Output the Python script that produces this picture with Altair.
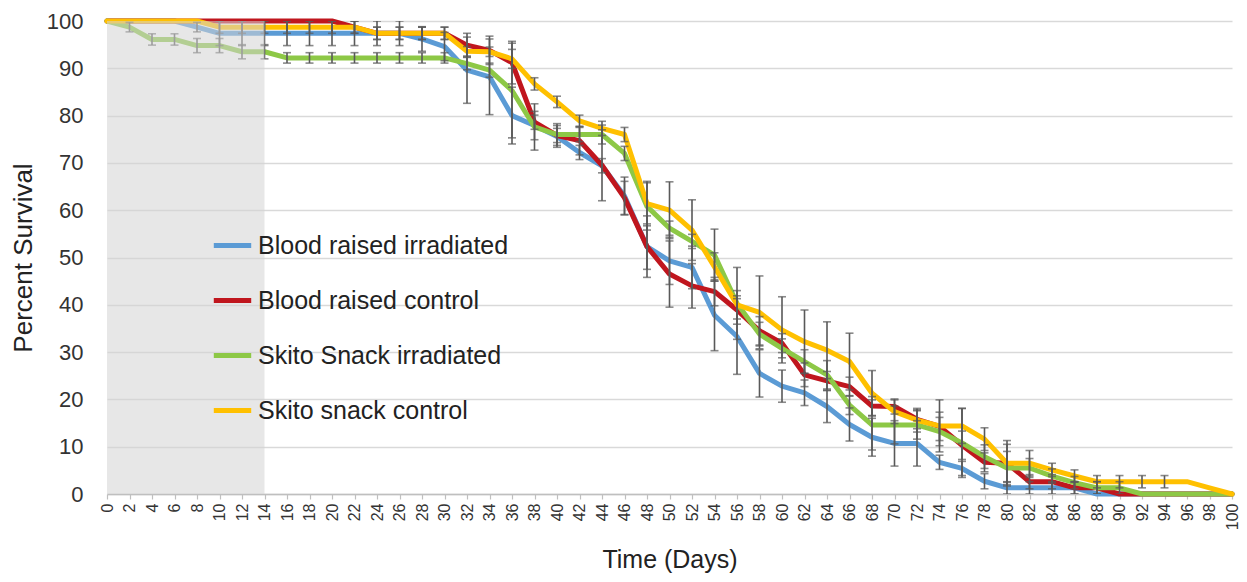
import altair as alt
import pandas as pd

days = [0, 2, 4, 6, 8, 10, 12, 14, 16, 18, 20, 22, 24, 26, 28, 30, 32, 34, 36, 38, 40,
        42, 44, 46, 48, 50, 52, 54, 56, 58, 60, 62, 64, 66, 68, 70, 72, 74, 76, 78, 80,
        82, 84, 86, 88, 90, 92, 94, 96, 98, 100]

series_names = ["Blood raised irradiated", "Blood raised control",
                "Skito Snack irradiated", "Skito snack control"]
series_colors = ["#5B9BD5", "#C0161E", "#8DC846", "#FFC000"]

blood_irr = [100, 100, 100, 100, 98.7, 97.4, 97.4, 97.4, 97.4, 97.4, 97.4, 97.4, 97.4, 97.4, 96.2, 94.6,
             89.6, 88.2, 80.0, 77.9, 75.6, 72.2, 69.4, 63.0, 52.3, 49.3, 47.9, 37.8, 33.3, 25.5, 22.8,
             21.4, 18.5, 14.7, 12.0, 10.7, 10.7, 6.7, 5.4, 2.7, 1.3, 1.3, 1.3, 1.3, 0, 0, 0, 0, 0, 0, 0]
blood_irr_err = [0, 0, 0, 0, 1.0, 2.6, 2.6, 2.6, 2.6, 2.6, 2.6, 2.6, 2.6, 2.6, 2.6, 3.0,
                 7.0, 8.0, 6.0, 3.0, 2.3, 1.5, 1.5, 4.0, 6.5, 5.0, 4.5, 7.5, 8.0, 5.0, 3.4,
                 2.7, 3.4, 3.5, 4.0, 4.8, 4.8, 1.5, 1.5, 1.6, 1.3, 1.3, 1.3, 1.3, 0, 0, 0, 0, 0, 0, 0]

blood_ctl = [100, 100, 100, 100, 100, 100, 100, 100, 100, 100, 100, 98.7, 97.4, 97.4, 97.4, 97.4,
             94.9, 93.8, 91.2, 78.6, 75.8, 74.7, 69.5, 62.6, 52.3, 46.5, 44.0, 42.8, 38.9, 34.5, 31.9,
             25.2, 23.9, 22.7, 18.6, 18.5, 15.8, 14.3, 10.3, 6.7, 6.5, 2.6, 2.6, 1.3, 1.3, 0, 0, 0, 0, 0, 0]
blood_ctl_err = [0, 0, 0, 0, 0, 0, 0, 0, 0, 0, 0, 1.3, 1.3, 1.3, 1.3, 1.3,
                 2.5, 3.0, 4.5, 1.5, 1.5, 3.0, 7.5, 3.5, 4.8, 7.0, 4.7, 3.0, 3.0, 3.0, 2.0,
                 2.5, 2.0, 2.0, 2.0, 1.6, 2.0, 3.0, 3.0, 2.0, 4.0, 1.5, 1.5, 1.3, 1.3, 0, 0, 0, 0, 0, 0]

skito_irr = [100, 98.7, 96.1, 96.1, 94.8, 94.8, 93.5, 93.5, 92.2, 92.2, 92.2, 92.2, 92.2, 92.2, 92.2, 92.2,
             91.0, 89.6, 85.3, 77.6, 76.0, 76.0, 76.0, 72.0, 60.8, 56.2, 53.4, 50.5, 40.3, 33.8, 30.8,
             28.0, 25.2, 18.8, 14.6, 14.6, 14.6, 13.2, 10.8, 7.9, 5.5, 5.5, 3.8, 2.4, 1.3, 1.3, 0, 0, 0, 0, 0]
skito_irr_err = [0, 1.0, 1.2, 1.2, 1.5, 1.5, 1.5, 1.5, 1.1, 1.1, 1.1, 1.1, 1.1, 1.1, 1.1, 1.1,
                 1.3, 1.5, 10.0, 4.9, 2.3, 1.5, 2.0, 1.5, 5.0, 1.5, 1.5, 5.5, 7.6, 2.5, 2.0,
                 2.5, 3.0, 2.0, 5.3, 4.0, 3.0, 3.0, 7.3, 2.5, 3.5, 2.0, 1.5, 1.3, 1.3, 1.3, 0, 0, 0, 0, 0]

skito_ctl = [100, 100, 100, 100, 100, 98.7, 98.7, 98.7, 98.7, 98.7, 98.7, 98.7, 97.4, 97.4, 97.4, 97.4,
             93.6, 93.5, 92.0, 86.7, 82.9, 78.9, 77.3, 76.0, 61.4, 60.0, 55.8, 48.0, 40.0, 38.4, 34.7,
             32.2, 30.4, 28.0, 21.3, 17.4, 15.6, 14.4, 14.4, 11.6, 6.5, 6.5, 5.1, 3.8, 2.6, 2.6, 2.6, 2.6, 2.6, 1.3, 0]
skito_ctl_err = [0, 0, 0, 0, 0, 1.3, 1.3, 1.3, 1.3, 1.3, 1.3, 1.3, 1.3, 1.3, 1.3, 1.3,
                 1.0, 1.0, 2.0, 1.3, 1.2, 1.2, 1.5, 1.5, 4.7, 6.0, 6.4, 3.0, 3.0, 7.7, 7.0,
                 6.7, 6.0, 6.0, 4.8, 2.5, 2.5, 5.5, 3.7, 2.4, 4.8, 2.7, 1.4, 1.3, 1.3, 1.3, 1.3, 1.3, 0, 0, 0]

shade_start = [0]
shade_end = [14]

y_ticks = [0, 10, 20, 30, 40, 50, 60, 70, 80, 90, 100]

values = [blood_irr, blood_ctl, skito_irr, skito_ctl]
errors = [blood_irr_err, blood_ctl_err, skito_irr_err, skito_ctl_err]

rows = []
for name, vals, errs in zip(series_names, values, errors):
    for d, v, e in zip(days, vals, errs):
        rows.append({"day": d, "pct": v, "err": e, "lo": v - e, "hi": v + e, "series": name})
df = pd.DataFrame(rows)
df_err = df[df["err"] > 0]

shade = pd.DataFrame({"x0": shade_start, "x1": shade_end, "y0": [0], "y1": [100]})

FONT = "Liberation Sans"
xscale = alt.Scale(domain=[0, 100], nice=False)
yscale = alt.Scale(domain=[0, 100], nice=False)

xaxis = alt.Axis(values=days, labelAngle=-90, labelFontSize=16, labelColor="#333333",
                 tickSize=5, tickColor="#BFBFBF", tickWidth=1.2, domainColor="#BFBFBF",
                 domainWidth=1.5, labelPadding=4, grid=False, title="Time (Days)",
                 titleFontSize=25, titleFontWeight="normal", titleColor="#222222",
                 titlePadding=18, labelFont=FONT, titleFont=FONT, labelFlush=False,
                 labelOverlap=False)
yaxis = alt.Axis(values=y_ticks, labelFontSize=22, labelColor="#333333", ticks=False,
                 domain=False, grid=True, gridColor="#D9D9D9", gridWidth=1.5,
                 labelPadding=24, title="Percent Survival", titleFontSize=26,
                 titleFontWeight="normal", titleColor="#222222", titlePadding=10,
                 labelFont=FONT, titleFont=FONT)

legend = alt.Legend(orient="none", legendX=104, legendY=203, title=None,
                    symbolType="stroke", symbolSize=1400, symbolStrokeWidth=5,
                    labelFontSize=25, labelFont=FONT, labelColor="#222222", labelLimit=0,
                    rowPadding=20, labelOffset=4, padding=0)
color = alt.Color("series:N", scale=alt.Scale(domain=series_names, range=series_colors),
                  legend=legend)

layers = []
for name in series_names:
    layers.append(
        alt.Chart(df[df["series"] == name]).mark_line(strokeWidth=5, strokeJoin="round",
                                                      strokeCap="round").encode(
            x=alt.X("day:Q", scale=xscale, axis=xaxis),
            y=alt.Y("pct:Q", scale=yscale, axis=yaxis),
            color=color,
        )
    )

bars = alt.Chart(df_err).mark_rule(color="#595959", strokeWidth=1.6, clip=True).encode(
    x=alt.X("day:Q", scale=xscale, axis=xaxis),
    y=alt.Y("lo:Q", scale=yscale, axis=yaxis),
    y2="hi:Q",
)
cap_lo = alt.Chart(df_err).mark_tick(orient="horizontal", size=8, thickness=1.6,
                                     color="#595959", clip=True).encode(
    x=alt.X("day:Q", scale=xscale, axis=xaxis),
    y=alt.Y("lo:Q", scale=yscale, axis=yaxis),
)
cap_hi = alt.Chart(df_err).mark_tick(orient="horizontal", size=8, thickness=1.6,
                                     color="#595959", clip=True).encode(
    x=alt.X("day:Q", scale=xscale, axis=xaxis),
    y=alt.Y("hi:Q", scale=yscale, axis=yaxis),
)

rect = alt.Chart(shade).mark_rect(color="#D4D4D4", opacity=0.55).encode(
    x=alt.X("x0:Q", scale=xscale, axis=xaxis),
    x2="x1:Q",
    y=alt.Y("y0:Q", scale=yscale, axis=yaxis),
    y2="y1:Q",
)

chart = alt.layer(*layers, bars, cap_lo, cap_hi, rect).properties(
    width=1125, height=473,
    padding={"left": 99, "top": 13, "right": 7, "bottom": 80},
    autosize=alt.AutoSizeParams(type="none"),
    background="white",
).configure_view(strokeOpacity=0)

chart.save("out.html", embed_options={"renderer": "svg", "actions": False})
